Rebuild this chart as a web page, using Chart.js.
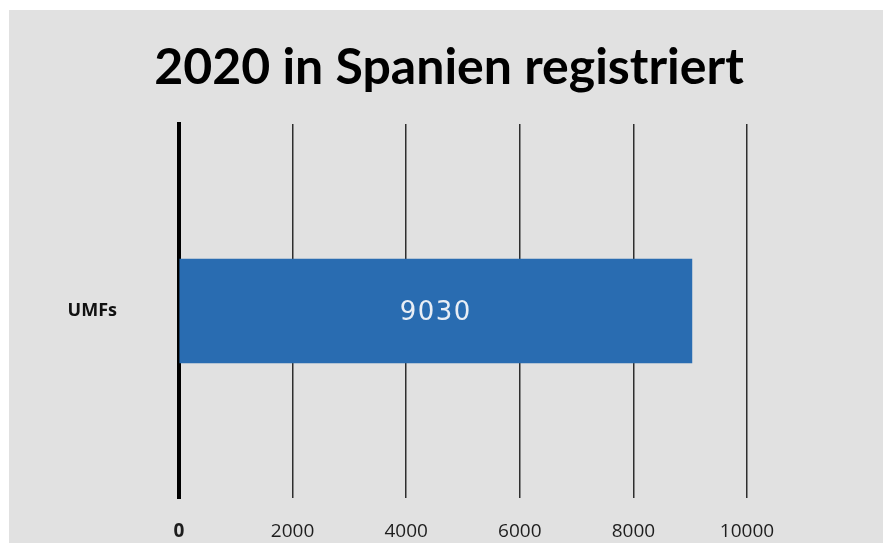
<!DOCTYPE html>
<html lang="de">
<head>
<meta charset="UTF-8">
<title>2020 in Spanien registriert</title>
<script src="https://cdn.jsdelivr.net/npm/chart.js"></script>
<style>
  html, body { margin: 0; background: #fff; overflow: hidden; }
  .frame { position: absolute; left: 9px; top: 10px; width: 874px; height: 533px; background: #e1e1e1; }
  canvas { display: block; }
</style>
</head>
<body>
<div class="frame"><canvas id="umfChart" width="874" height="533"></canvas></div>
<script>
const categories = ['UMFs'];
const values = [9030];
const xTicks = [0, 2000, 4000, 6000, 8000, 10000];
const chartTitle = '2020 in Spanien registriert';

// writes the value in the middle of each bar
const valueLabels = {
  id: 'valueLabels',
  afterDatasetsDraw(chart) {
    const ctx = chart.ctx;
    chart.getDatasetMeta(0).data.forEach((bar, i) => {
      const c = bar.getCenterPoint();
      ctx.save();
      ctx.font = '26px "DejaVu Sans"';
      ctx.letterSpacing = '1.5px';
      ctx.fillStyle = '#e9eef5';
      ctx.textAlign = 'center';
      ctx.textBaseline = 'middle';
      ctx.fillText(String(values[i]), c.x, c.y + 2);
      ctx.restore();
    });
  }
};

new Chart(document.getElementById('umfChart'), {
  type: 'bar',
  data: {
    labels: categories,
    datasets: [{
      data: values,
      backgroundColor: '#296cb1',
      barThickness: 104
    }]
  },
  options: {
    indexAxis: 'y',
    responsive: false,
    animation: false,
    layout: { padding: { left: 6, right: 0, top: 0, bottom: 2 } },
    plugins: {
      legend: { display: false },
      tooltip: { enabled: false },
      title: {
        display: true,
        text: chartTitle,
        color: '#000',
        font: { family: 'Lato', size: 50, weight: 'bold' },
        padding: { top: 28, bottom: 26 }
      }
    },
    scales: {
      x: {
        min: xTicks[0],
        max: xTicks[xTicks.length - 1],
        afterBuildTicks: s => { s.ticks = xTicks.map(v => ({ value: v })); },
        afterFit: s => { s.height = 43; },
        grid: { color: '#2e2e2e', lineWidth: 1.5, drawTicks: false, tickLength: 0 },
        border: { display: false },
        ticks: {
          padding: 22,
          color: '#1e1e1e',
          callback: v => String(v),
          font: c => ({ family: 'Open Sans', size: 19, weight: c.tick && c.tick.value === 0 ? 'bold' : 'normal' })
        }
      },
      y: {
        z: 1,
        // fixed width; the wide label gap must not push the plot top/bottom
        afterFit: s => { s.width = 164; s.paddingTop = 0; s.paddingBottom = 0; },
        grid: { display: false, drawTicks: false, tickLength: 0 },
        border: { display: true, color: '#000', width: 4 },
        ticks: {
          padding: 62,
          color: '#111',
          font: { family: 'Open Sans', size: 18, weight: 'bold' }
        }
      },
      // empty right-hand axis that keeps space beside the plot
      yRight: {
        type: 'category',
        position: 'right',
        afterFit: s => { s.width = 136; },
        grid: { display: false, drawTicks: false },
        border: { display: false },
        ticks: { display: false }
      }
    }
  },
  plugins: [valueLabels]
});
</script>
</body>
</html>
